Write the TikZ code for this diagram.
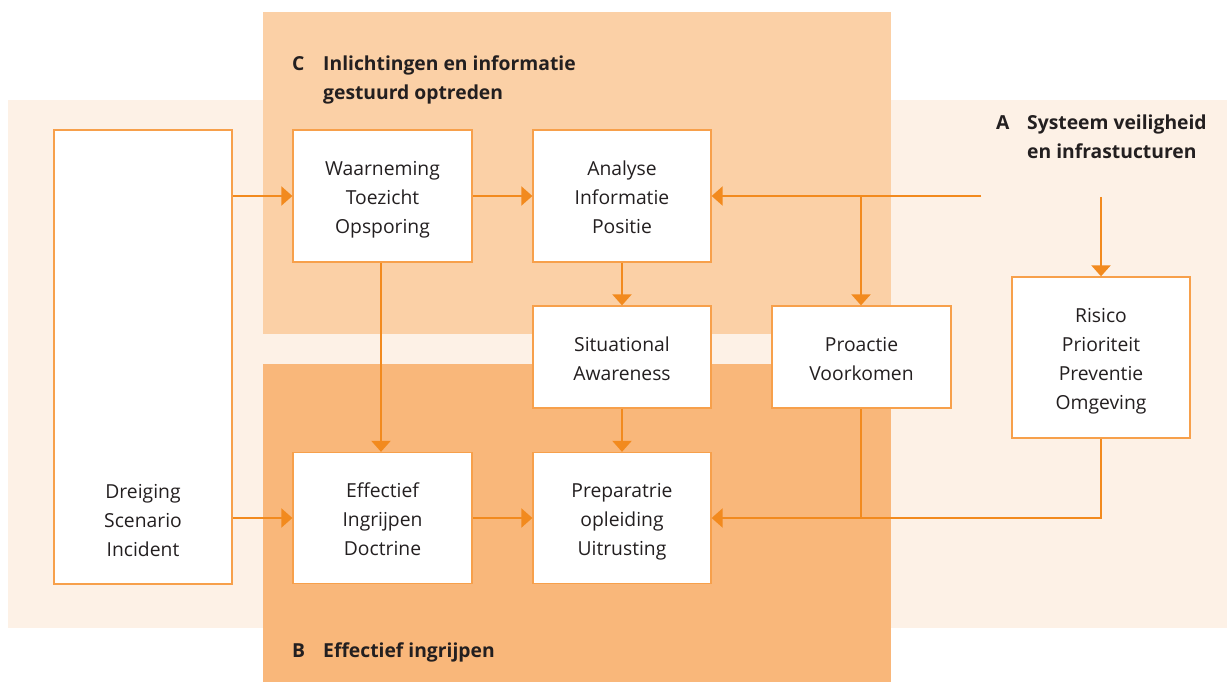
\documentclass[tikz,border=0pt]{standalone}
\usepackage{fontspec}
\setmainfont{Open Sans}
\usetikzlibrary{arrows.meta}
\definecolor{bgA}{HTML}{FDF1E6}
\definecolor{bgC}{HTML}{FBD0A6}
\definecolor{bgB}{HTML}{F9B77A}
\definecolor{arr}{HTML}{F28A1E}
\definecolor{bord}{HTML}{F7A04B}
\definecolor{txt}{HTML}{231F20}
\newcommand\boxtext[1]{\raisebox{-3pt}[\height][\depth]{\begin{tabular}{@{}c@{}}#1\end{tabular}}}
\tikzset{
  boxnode/.style={draw=bord, line width=1.3pt, fill=white, inner sep=0pt,
    text=txt, font=\fontsize{19.3}{29}\selectfont},
  conn/.style={draw=arr, line width=2.2pt, -{Triangle[length=11pt,width=19pt]}},
  plain/.style={draw=arr, line width=2.2pt},
  head/.style={text=txt, font=\fontsize{19.3}{29}\selectfont\bfseries, inner sep=0pt, anchor=base west},
}
\begin{document}
\begin{tikzpicture}[x=1pt,y=-1pt]
\useasboundingbox (0,0) rectangle (1227,682);
\fill[bgA] (8,100) rectangle (1227,628);
\fill[bgC] (263,12) rectangle (891,334);
\fill[bgB] (263,364) rectangle (891,682);
% boxes
\node[boxnode, minimum width=178pt, minimum height=454pt] (dreig) at (143,357) {};
\node[text=txt, font=\fontsize{19.3}{29}\selectfont, inner sep=0pt] (dreigtxt) at (143,519) {\boxtext{Dreiging\\Scenario\\Incident}};
\node[boxnode, minimum width=179pt, minimum height=132pt] (waar) at (382.5,196) {\boxtext{Waarneming\\Toezicht\\Opsporing}};
\node[boxnode, minimum width=178pt, minimum height=132pt] (anal) at (622,196) {\boxtext{Analyse\\Informatie\\Positie}};
\node[boxnode, minimum width=178pt, minimum height=102pt] (sit) at (622,357) {\boxtext{Situational\\Awareness}};
\node[boxnode, minimum width=179pt, minimum height=102pt] (proa) at (861.5,357) {\boxtext{Proactie\\Voorkomen}};
\node[boxnode, minimum width=178pt, minimum height=161pt] (ris) at (1101,357.5) {\boxtext{Risico\\Prioriteit\\Preventie\\Omgeving}};
\node[boxnode, minimum width=179pt, minimum height=131pt] (eff) at (382.5,518) {\boxtext{Effectief\\Ingrijpen\\Doctrine}};
\node[boxnode, minimum width=178pt, minimum height=131pt] (prep) at (622,518) {\boxtext{Preparatrie\\opleiding\\Uitrusting}};
% labels
\node[head] (labC) at (292,71) {C};
\node[head] (labCa) at (323,71) {Inlichtingen en informatie};
\node[head] (labCb) at (323,100) {gestuurd optreden};
\node[head] (labA) at (996,130) {A};
\node[head] (labAa) at (1027,130) {Systeem veiligheid};
\node[head] (labAb) at (1027,159) {en infrastucturen};
\node[head] (labB) at (292,657) {B};
\node[head] (labBt) at (323,657) {Effectief ingrijpen};
% coordinates
\coordinate (aIn) at (981,196);
\coordinate (aJ) at (861,196);
\coordinate (rIn) at (1101,197);
\coordinate (bJ) at (861,518);
\coordinate (rJ) at (1101,518);
% connectors
\draw[conn] (dreig.east |- waar.west) -- (waar.west);
\draw[conn] (dreig.east |- eff.west) -- (eff.west);
\draw[conn] (waar.east) -- (anal.west);
\draw[conn] (aIn) -- (anal.east);
\draw[conn] (aJ) -- (proa.north -| aJ);
\draw[conn] (rIn) -- (ris.north -| rIn);
\draw[conn] (anal.south) -- (sit.north);
\draw[conn] (sit.south) -- (prep.north);
\draw[conn] (waar.south -| 381,0) -- (eff.north -| 381,0);
\draw[conn] (eff.east) -- (prep.west);
\draw[plain] (ris.south -| rJ) -- (rJ) -- (bJ);
\draw[plain] (proa.south -| bJ) -- (bJ);
\draw[conn] (bJ) -- (prep.east);
\end{tikzpicture}
\end{document}
